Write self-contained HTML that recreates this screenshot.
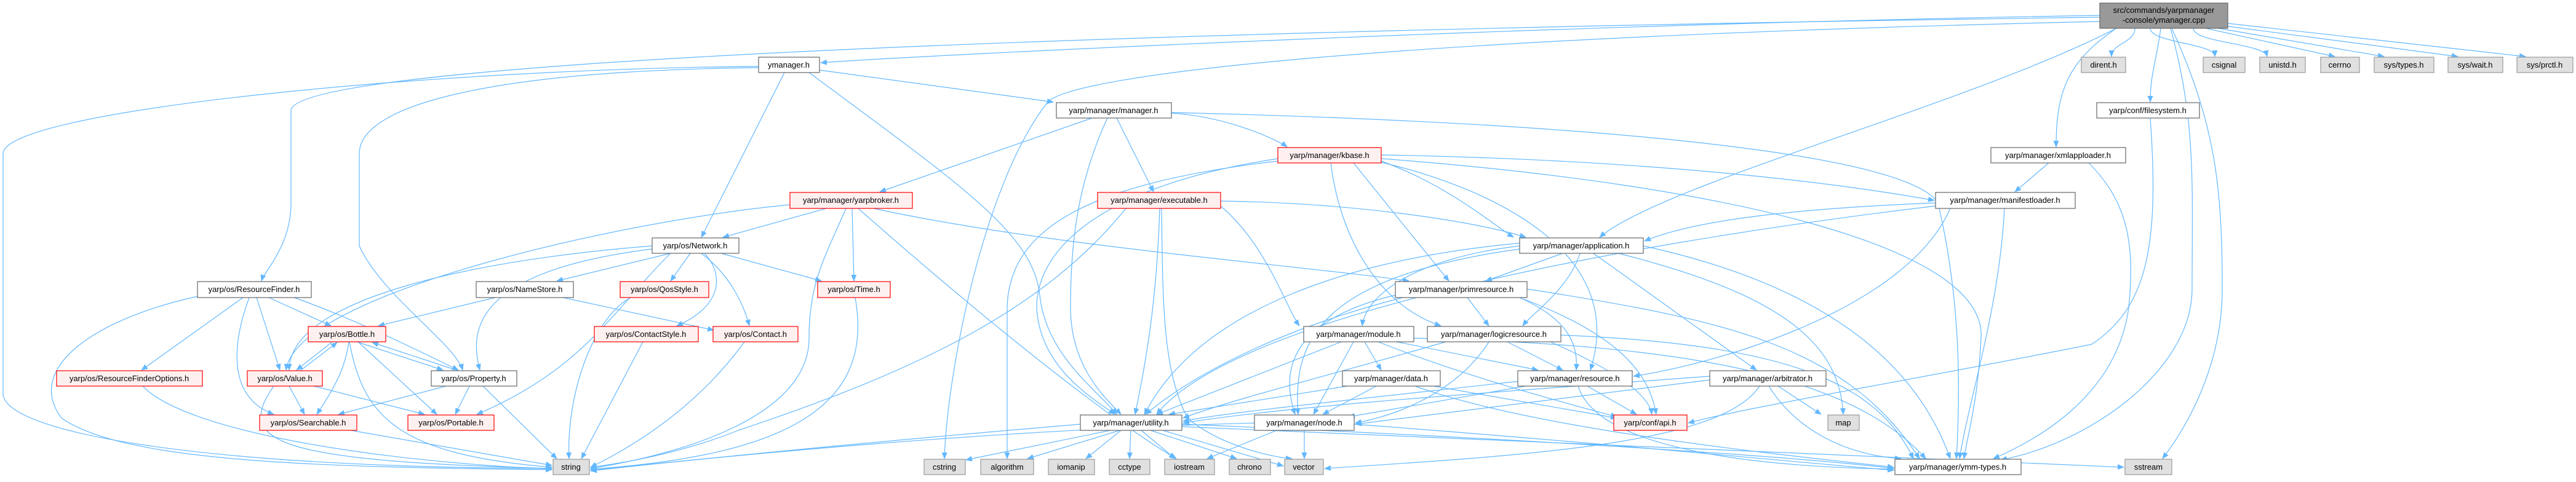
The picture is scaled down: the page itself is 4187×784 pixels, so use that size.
<!DOCTYPE html>
<html><head><meta charset="utf-8"><style>
html,body{margin:0;padding:0;background:#fff;}
svg{display:block;}
text{font-family:"Liberation Sans",sans-serif;font-size:13px;fill:#000;text-anchor:middle;}
.e{fill:none;stroke:#63b8ff;stroke-width:1.2;marker-end:url(#a);}
.n{fill:#fff;stroke:#666;stroke-width:1.2;}
.r{fill:#fff0f0;stroke:#ff0000;stroke-width:1.2;}
.g{fill:#e0e0e0;stroke:#999;stroke-width:1.2;}
.root{fill:#999;stroke:#666;stroke-width:1.2;}
</style></head><body>
<svg width="4187" height="784" viewBox="0 0 4187 784" xmlns="http://www.w3.org/2000/svg">
<defs><marker id="a" markerUnits="userSpaceOnUse" markerWidth="11" markerHeight="9" refX="10" refY="4.5" orient="auto"><path d="M0,0 L11,4.5 L0,9 z" fill="#63b8ff"/></marker></defs>
<g>
<!-- root -->
<path class="e" d="M3413 25 C2500 40 1500 90 1334 102"/>
<path class="e" d="M3413 28 C1800 50 473 100 473 180 L473 330 C473 400 430 440 425 457"/>
<path class="e" d="M3413 35 C2300 60 1720 120 1700 170 C1600 300 1540 600 1535 746"/>
<path class="e" d="M3440 46 C3200 170 2700 300 2600 386"/>
<path class="e" d="M3470 46 C3470 70 3432 70 3432 92"/>
<path class="e" d="M3495 46 C3495 70 3600 70 3600 92"/>
<path class="e" d="M3565 46 C3565 70 3680 70 3685 92"/>
<path class="e" d="M3585 46 L3795 92"/>
<path class="e" d="M3605 46 L3875 92"/>
<path class="e" d="M3615 42 L3995 92"/>
<path class="e" d="M3621 38 L4105 92"/>
<path class="e" d="M3512 46 C3505 100 3495 120 3495 166"/>
<path class="e" d="M3440 46 C3360 100 3342 150 3342 239"/>
<path class="e" d="M3530 46 C3600 200 3612 300 3612 470 C3612 600 3550 700 3515 746"/>
<path class="e" d="M3528 46 C3570 200 3563 300 3563 470 C3563 600 3400 720 3252 748"/>
<!-- ymanager -->
<path class="e" d="M1332 114 L1712 166"/>
<path class="e" d="M1275 118 L1140 386"/>
<path class="e" d="M1233 108 C700 112 5 180 5 250 L5 640 C5 700 300 760 897 762"/>
<path class="e" d="M1233 110 C800 115 584 170 584 250 L584 400 C620 480 740 560 752 602"/>
<path class="e" d="M1315 118 C1560 300 1680 380 1690 480 C1700 580 1790 640 1815 674"/>
<!-- manager -->
<path class="e" d="M1775 192 L1430 312"/>
<path class="e" d="M1815 192 L1875 312"/>
<path class="e" d="M1904 184 C2000 190 2080 230 2092 239"/>
<path class="e" d="M1904 183 C2600 200 3100 250 3150 330 C3190 500 3185 650 3180 746"/>
<path class="e" d="M1800 192 C1750 300 1740 400 1740 500 C1740 600 1800 650 1822 674"/>
<!-- yarpbroker -->
<path class="e" d="M1343 339 L1175 386"/>
<path class="e" d="M1385 339 L1388 457"/>
<path class="e" d="M1375 339 C1340 420 1315 460 1315 550 C1315 680 1100 740 960 762"/>
<path class="e" d="M1284 333 C1000 360 480 480 465 602"/>
<path class="e" d="M1420 339 C1700 400 2100 430 2290 457"/>
<path class="e" d="M1395 339 C1600 520 1800 680 1912 746"/>
<!-- executable -->
<path class="e" d="M1984 327 C2200 330 2400 360 2480 386"/>
<path class="e" d="M1984 335 C2060 400 2090 500 2112 530"/>
<path class="e" d="M1885 339 C1880 500 1860 600 1845 674"/>
<path class="e" d="M1888 339 C1890 500 1890 600 1930 680 C1990 730 2080 745 2100 746"/>
<path class="e" d="M1830 339 C1700 500 1500 600 1200 700 C1100 740 1000 755 960 760"/>
<!-- kbase -->
<path class="e" d="M2245 252 C2700 260 3000 300 3144 326"/>
<path class="e" d="M2245 258 C2800 300 3230 400 3220 550 C3215 650 3200 700 3192 746"/>
<path class="e" d="M2245 262 C2350 300 2420 360 2460 386"/>
<path class="e" d="M2200 265 L2355 457"/>
<path class="e" d="M2163 265 C2180 400 2250 500 2342 530"/>
<path class="e" d="M2077 262 C1750 300 1640 380 1637 500 L1637 746"/>
<path class="e" d="M2077 258 C1800 300 1685 400 1685 500 C1690 600 1780 650 1812 674"/>
<path class="e" d="M2245 264 C2400 300 2650 400 2585 602"/>
<!-- Network -->
<path class="e" d="M1090 412 L905 457"/>
<path class="e" d="M1122 412 L1090 457"/>
<path class="e" d="M1145 412 C1180 450 1170 500 1100 530"/>
<path class="e" d="M1140 412 C1190 450 1210 500 1218 530"/>
<path class="e" d="M1172 412 L1335 457"/>
<path class="e" d="M1060 400 C800 420 470 480 470 602"/>
<path class="e" d="M1060 405 C780 440 760 530 780 602"/>
<path class="e" d="M1090 412 C1000 500 950 600 775 674"/>
<!-- ResourceFinder -->
<path class="e" d="M321 482 C150 520 40 600 100 680 C200 750 500 760 897 764"/>
<path class="e" d="M395 484 L230 602"/>
<path class="e" d="M405 484 C370 580 380 650 445 674"/>
<path class="e" d="M417 484 L455 602"/>
<path class="e" d="M437 484 L538 530"/>
<path class="e" d="M478 484 C580 520 700 580 745 602"/>
<!-- Bottle / Value / Property -->
<path class="e" d="M540 556 L482 602"/>
<path class="e" d="M488 603 L548 557"/>
<path class="e" d="M580 556 L720 602"/>
<path class="e" d="M745 603 L605 557"/>
<path class="e" d="M567 556 C560 610 530 650 515 674"/>
<path class="e" d="M582 556 L710 674"/>
<path class="e" d="M568 556 C590 680 650 740 897 760"/>
<path class="e" d="M470 628 L495 674"/>
<path class="e" d="M510 628 L690 674"/>
<path class="e" d="M445 628 C380 720 450 750 897 762"/>
<path class="e" d="M725 628 L550 674"/>
<path class="e" d="M763 628 L740 674"/>
<path class="e" d="M785 628 L905 746"/>
<path class="e" d="M232 628 C300 700 600 750 897 763"/>
<path class="e" d="M570 700 L897 757"/>
<path class="e" d="M805 484 L615 530"/>
<path class="e" d="M915 484 L1160 537"/>
<path class="e" d="M1025 484 C960 520 920 650 925 746"/>
<path class="e" d="M1045 556 L945 746"/>
<path class="e" d="M1210 556 C1120 680 1000 740 960 760"/>
<path class="e" d="M1390 484 C1420 650 1300 740 960 763"/>
<!-- application -->
<path class="e" d="M2540 412 L2415 457"/>
<path class="e" d="M2470 400 C2300 420 2220 480 2214 530"/>
<path class="e" d="M2568 412 C2550 470 2490 510 2475 530"/>
<path class="e" d="M2590 412 L2855 602"/>
<path class="e" d="M2630 412 C2900 480 2990 560 2996 674"/>
<path class="e" d="M2470 405 C2150 450 2100 550 2110 674"/>
<path class="e" d="M2475 395 C2200 420 1950 500 1860 674"/>
<path class="e" d="M2671 400 C2900 450 3100 550 3170 746"/>
<!-- primresource -->
<path class="e" d="M2385 484 L2420 530"/>
<path class="e" d="M2470 484 C2550 520 2565 560 2562 602"/>
<path class="e" d="M2470 484 C2620 540 2680 600 2692 674"/>
<path class="e" d="M2482 470 C2800 520 3000 560 3120 746"/>
<path class="e" d="M2268 480 C2100 520 2080 600 2105 674"/>
<path class="e" d="M2280 484 C2100 530 1950 600 1862 674"/>
<!-- module -->
<path class="e" d="M2218 556 L2245 602"/>
<path class="e" d="M2270 556 L2500 602"/>
<path class="e" d="M2200 556 L2135 674"/>
<path class="e" d="M2240 556 C2400 620 2600 670 2628 678"/>
<path class="e" d="M2180 556 L1880 674"/>
<path class="e" d="M2298 550 C2700 560 3000 600 3130 746"/>
<!-- logicresource -->
<path class="e" d="M2450 556 L2540 602"/>
<path class="e" d="M2420 556 C2380 620 2300 670 2203 688"/>
<path class="e" d="M2520 556 C2620 600 2680 640 2685 674"/>
<path class="e" d="M2350 556 C2200 600 2000 650 1923 680"/>
<path class="e" d="M2537 545 C2900 560 3050 620 3110 746"/>
<!-- data -->
<path class="e" d="M2237 628 L2150 674"/>
<path class="e" d="M2330 628 L2628 680"/>
<path class="e" d="M2190 628 L1900 674"/>
<path class="e" d="M2300 628 C2500 700 2900 740 3078 760"/>
<!-- resource -->
<path class="e" d="M2580 628 L2660 674"/>
<path class="e" d="M2480 628 L2192 678"/>
<path class="e" d="M2470 620 C2200 650 2000 670 1923 685"/>
<path class="e" d="M2565 628 C2600 740 2900 760 3078 763"/>
<!-- arbitrator -->
<path class="e" d="M2779 618 L2203 690"/>
<path class="e" d="M2890 628 L2960 674"/>
<path class="e" d="M2860 628 C2800 720 2500 740 2153 762"/>
<path class="e" d="M2875 628 C2920 700 3000 740 3090 746"/>
<path class="e" d="M2779 612 C2400 640 2100 660 1923 688"/>
<!-- node -->
<path class="e" d="M2120 700 L2120 746"/>
<path class="e" d="M2201 690 C2600 720 2900 750 3078 765"/>
<path class="e" d="M2039 688 C1600 700 1200 740 960 765"/>
<path class="e" d="M2075 700 L1962 746"/>
<!-- utility -->
<path class="e" d="M1756 690 C1400 720 1100 750 960 766"/>
<path class="e" d="M1805 700 L1570 748"/>
<path class="e" d="M1820 700 L1670 746"/>
<path class="e" d="M1822 700 L1765 746"/>
<path class="e" d="M1838 700 L1836 746"/>
<path class="e" d="M1855 700 L1910 746"/>
<path class="e" d="M1870 700 L2010 746"/>
<path class="e" d="M1890 700 L2086 758"/>
<path class="e" d="M1921 690 C2400 710 2900 740 3078 762"/>
<path class="e" d="M1921 694 C2500 720 3200 745 3452 760"/>
<!-- manifestloader / xmlapploader / filesystem -->
<path class="e" d="M3146 330 C2900 340 2750 360 2673 392"/>
<path class="e" d="M3258 339 C3250 500 3200 650 3185 746"/>
<path class="e" d="M3170 339 C3100 500 2800 590 2655 612"/>
<path class="e" d="M3146 335 C2600 400 2000 520 1880 674"/>
<path class="e" d="M3495 192 C3510 400 3490 500 3400 560 C3100 620 2850 660 2744 688"/>
<path class="e" d="M3330 265 L3275 312"/>
<path class="e" d="M3395 265 C3460 330 3470 400 3460 500 C3440 650 3300 720 3240 746"/>
</g>
<g>
<rect class="root" x="3413" y="5" width="208" height="41"/>
<text x="3517" y="21">src/commands/yarpmanager</text>
<text x="3517" y="37">-console/ymanager.cpp</text>

<rect class="n" x="1233" y="93" width="99" height="25"/><text x="1282" y="110">ymanager.h</text>
<rect class="g" x="3383" y="93" width="72" height="25"/><text x="3419" y="110">dirent.h</text>
<rect class="g" x="3581" y="93" width="68" height="25"/><text x="3615" y="110">csignal</text>
<rect class="g" x="3673" y="93" width="74" height="25"/><text x="3710" y="110">unistd.h</text>
<rect class="g" x="3772" y="93" width="63" height="25"/><text x="3803" y="110">cerrno</text>
<rect class="g" x="3859" y="93" width="97" height="25"/><text x="3907" y="110">sys/types.h</text>
<rect class="g" x="3979" y="93" width="89" height="25"/><text x="4023" y="110">sys/wait.h</text>
<rect class="g" x="4091" y="93" width="91" height="25"/><text x="4136" y="110">sys/prctl.h</text>

<rect class="n" x="1717" y="167" width="187" height="25"/><text x="1810" y="184">yarp/manager/manager.h</text>
<rect class="n" x="3408" y="167" width="167" height="25"/><text x="3491" y="184">yarp/conf/filesystem.h</text>

<rect class="r" x="2077" y="240" width="168" height="25"/><text x="2161" y="257">yarp/manager/kbase.h</text>
<rect class="n" x="3236" y="240" width="219" height="25"/><text x="3345" y="257">yarp/manager/xmlapploader.h</text>

<rect class="r" x="1284" y="313" width="199" height="26"/><text x="1383" y="330">yarp/manager/yarpbroker.h</text>
<rect class="r" x="1784" y="313" width="200" height="26"/><text x="1884" y="330">yarp/manager/executable.h</text>
<rect class="n" x="3146" y="313" width="227" height="26"/><text x="3259" y="330">yarp/manager/manifestloader.h</text>

<rect class="n" x="1060" y="387" width="141" height="25"/><text x="1130" y="404">yarp/os/Network.h</text>
<rect class="n" x="2470" y="387" width="201" height="25"/><text x="2570" y="404">yarp/manager/application.h</text>

<rect class="n" x="321" y="458" width="185" height="26"/><text x="413" y="475">yarp/os/ResourceFinder.h</text>
<rect class="n" x="774" y="458" width="158" height="26"/><text x="853" y="475">yarp/os/NameStore.h</text>
<rect class="r" x="1008" y="458" width="144" height="26"/><text x="1080" y="475">yarp/os/QosStyle.h</text>
<rect class="r" x="1329" y="458" width="118" height="26"/><text x="1388" y="475">yarp/os/Time.h</text>
<rect class="n" x="2268" y="458" width="214" height="26"/><text x="2375" y="475">yarp/manager/primresource.h</text>

<rect class="r" x="501" y="531" width="126" height="25"/><text x="564" y="548">yarp/os/Bottle.h</text>
<rect class="r" x="966" y="531" width="169" height="25"/><text x="1050" y="548">yarp/os/ContactStyle.h</text>
<rect class="r" x="1159" y="531" width="138" height="25"/><text x="1228" y="548">yarp/os/Contact.h</text>
<rect class="n" x="2119" y="531" width="179" height="25"/><text x="2208" y="548">yarp/manager/module.h</text>
<rect class="n" x="2320" y="531" width="217" height="25"/><text x="2428" y="548">yarp/manager/logicresource.h</text>

<rect class="r" x="92" y="603" width="237" height="25"/><text x="210" y="620">yarp/os/ResourceFinderOptions.h</text>
<rect class="r" x="402" y="603" width="122" height="25"/><text x="463" y="620">yarp/os/Value.h</text>
<rect class="n" x="701" y="603" width="139" height="25"/><text x="770" y="620">yarp/os/Property.h</text>
<rect class="n" x="2182" y="603" width="159" height="25"/><text x="2261" y="620">yarp/manager/data.h</text>
<rect class="n" x="2467" y="603" width="186" height="25"/><text x="2560" y="620">yarp/manager/resource.h</text>
<rect class="n" x="2779" y="603" width="189" height="25"/><text x="2873" y="620">yarp/manager/arbitrator.h</text>

<rect class="r" x="422" y="675" width="158" height="25"/><text x="501" y="692">yarp/os/Searchable.h</text>
<rect class="r" x="663" y="675" width="140" height="25"/><text x="733" y="692">yarp/os/Portable.h</text>
<rect class="n" x="1756" y="675" width="165" height="25"/><text x="1838" y="692">yarp/manager/utility.h</text>
<rect class="n" x="2039" y="675" width="162" height="25"/><text x="2120" y="692">yarp/manager/node.h</text>
<rect class="r" x="2623" y="675" width="119" height="25"/><text x="2682" y="692">yarp/conf/api.h</text>
<rect class="g" x="2971" y="675" width="51" height="25"/><text x="2996" y="692">map</text>

<rect class="g" x="899" y="747" width="59" height="25"/><text x="928" y="764">string</text>
<rect class="g" x="1502" y="747" width="67" height="25"/><text x="1535" y="764">cstring</text>
<rect class="g" x="1594" y="747" width="86" height="25"/><text x="1637" y="764">algorithm</text>
<rect class="g" x="1704" y="747" width="75" height="25"/><text x="1741" y="764">iomanip</text>
<rect class="g" x="1803" y="747" width="66" height="25"/><text x="1836" y="764">cctype</text>
<rect class="g" x="1893" y="747" width="81" height="25"/><text x="1933" y="764">iostream</text>
<rect class="g" x="1998" y="747" width="67" height="25"/><text x="2031" y="764">chrono</text>
<rect class="g" x="2088" y="747" width="63" height="25"/><text x="2119" y="764">vector</text>
<rect class="n" x="3080" y="747" width="205" height="25"/><text x="3182" y="764">yarp/manager/ymm-types.h</text>
<rect class="g" x="3454" y="747" width="76" height="25"/><text x="3492" y="764">sstream</text>
</g>
</svg>
</body></html>
